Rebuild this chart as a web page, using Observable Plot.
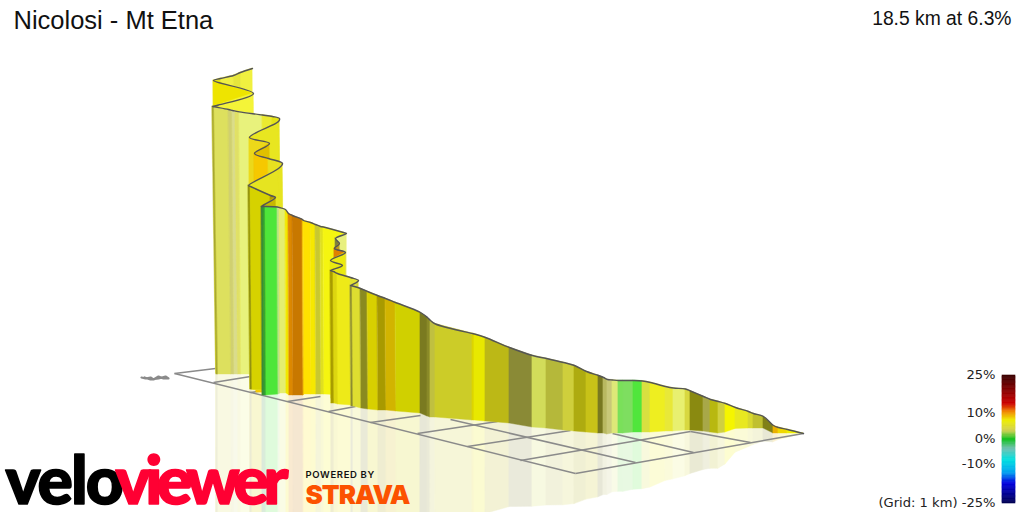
<!DOCTYPE html>
<html>
<head>
<meta charset="utf-8">
<script src="https://cdn.jsdelivr.net/npm/d3@7"></script>
<script src="https://cdn.jsdelivr.net/npm/@observablehq/plot@0.6"></script>
<style>
html,body{margin:0;padding:0;background:#fff;overflow:hidden}
</style>
</head>
<body>
<div id="chart"></div>
<script>
const topX = [252,240,233,220,213,253,218,212,214,228,232,235,239,262,272,279,278,249,269,254,268,282,278,248,250,270,275,
  261,263,265,277,279,285,288,292,302,303,310,315,320,323,343,346,335,339,334,345,330,342,330,333,337,350,358,356,350,352,360,367,377,385,395,420,427,430,435,472,474,485,509,532,546,563,574,586,598,603,607,612,618,623,633,642,650,665,673,685,690,703,710,718,725,735,748,753,763,773,778,787,803];
const topY = [68,72,75,78,80,93,104.5,106,106.4,109,110,110.6,111.4,114.5,116,118,121,137,143,153,158,163,168,185,186,195,197,
  206,206,206,206.5,207,209,213,215,219,220,222,224,226,226.5,232,233,238,243,248,252,260,265,270,271,273,277,280,282,285,285.5,288,291,295,298,302,312,317,320,323.5,333,333.5,337,347,355,358,362,365,371,375,377,379,379.5,380,380,380,380.5,382,386,387.5,388.5,390.5,396,399,401,403,407,411,413,416,425,427,429,433];
const baseX = [254,242,235,222,216,254,220,216,218,231,234,238,241,264,274,281,280,250,271,256,270,284,280,250,252,272,277,
  262,264,266,278,280,286,289,293,303,304,311,316,321,324,344,346,336,339,335,345,331,342,331,334,338,351,359,354,351,353,361,368,378,386,396,420,427,430,435,472,474,485,509,532,546,563,574,586,598,603,607,612,618,623,633,642,650,665,673,685,690,703,710,718,725,735,748,753,763,773,778,787,803];
const baseY = [372,372,372,373,373,372,373,374,374,374,374,374,374,374,374,374,374,389,392,392,392,392,392,389,389,390,390,
  395,395,395,394,393,393,395,395,395,394,394,394,394,394,395,395,396,396,396,397,398,398,403,403,404,405,405,405,406,406,408,409,410,410,411,413,416,417,417,420,420,421,423,427,428,430,431,432,433,433,434,433,433,433,432,432,432,431,431,430,430,431,432,433,432,428.5,428,428,428,433,433,433,433];
const stripeFill = ["#f0f040","#e6e63c","#f0f044","#e2e210","#eee400","#f4f438","#d8d820","#a8a830","#dde05e","#d0d070","#dadc8c","#e0e066","#e8f27c","#ebea30","#e4e414","#e8e620","#e8e620","#ecd81a","#e0c000","#f6c800","#e8e020","#e6e420","#e6e420","#8f8f10","#d6d200","#b09a00","#c8b800",
  "#3a8a3a","#30a030","#4de63a","#b8e28a","#e4ee70","#f2e800","#dd8800","#c87800","#eeb400","#ffe100","#f6e800","#c8c830","#e0e020","#f5f510","#f4f420","#e8f080","#80803a","#c09a20","#e08000","#ebeb10","#eaea10","#e8e810","#a89c00","#ddd610","#eeea18","#e4e430","#d8d838","#dede40","#8a8a30","#dede30","#8a8a20","#d8d000","#a89a00","#d2b400","#d0d000","#7a7a20","#8a8a28","#c0c040","#cccc28","#dcd400","#e8e800","#bcb816","#8a8a36","#d2dc5a","#b5b83a","#cfcf3c","#aeab10","#c8c218","#787820","#b8b860","#c8c878","#dde878","#7ae05a","#7ede60","#50e63c","#d8e040","#eeee20","#e8e838","#e8f070","#d8d840","#8a8a10","#a8a848","#b8b810","#d0d040","#f5f500","#e8e820","#d8d830","#c0c030","#808018","#eab000","#f0d800","#eeee00","#eeee00"];

const gridX1 = [174,213,250,287,328,370,417,467,520,575,174,450,612,690];
const gridY1 = [373,382,392,401,411,422,433,446,460,473,373,419,433,431];
const gridX2 = [215,250,270,320,355,420,497,570,690,803,575,635,693,750];
const gridY2 = [368,376,389,396,406,415,421,430,431,433,473,462,452,442];

const squiggleX = [141,145,150,153,158,163,168,165,158,150,144];
const squiggleY = [377,378,377,379,376,378,378,376,378,379,377];

const legendGrades = [25,20,14,11,7.5,3.5,0,-3.5,-8,-13,-17,-25];
const legendColors = ["#3a0000","#7c0000","#cc0000","#f08000","#eeee00","#d0d050","#10c020","#70c0b0","#00e0e0","#00a0f0","#0000e0","#000050"];
const legendLabels = ["25%","10%","0%","-10%","(Grid: 1 km) -25%"];
const legendLabelY = [379,417,443,468,507];

const titleText = "Nicolosi - Mt Etna";
const summaryText = "18.5 km at 6.3%";

const quads = [];
for (let i = 0; i < topX.length - 1; i++) {
  for (const j of [i, i + 1]) {
    const drop = baseY[j] - topY[j];
    quads.push({id: i, fill: stripeFill[i], x1: topX[j], y1: topY[j], x2: baseX[j], y2: baseY[j],
      rx: baseX[j], ry1: baseY[j], ry2: baseY[j] + 1.1 * drop,
      pale: d3.interpolateRgb(stripeFill[i], "#fff")(0.82)});
  }
}
const ridge = topX.map((x, i) => ({x, y: topY[i]}));
const grid = gridX1.map((x, i) => ({x1: x, y1: gridY1[i], x2: gridX2[i], y2: gridY2[i]}));
const squiggle = squiggleX.map((x, i) => ({x, y: squiggleY[i]}));
const rampColor = d3.scaleLinear().domain(legendGrades).range(legendColors);
const ramp = d3.range(-25, 25, 0.5).map(g => ({g, c: rampColor(g + 0.25)}));
const legendY = g => 439 - g * 2.56;

const plot = Plot.plot({
  width: 1024, height: 512, margin: 0,
  x: {domain: [0, 1024], range: [0, 1024], axis: null},
  y: {domain: [0, 512], range: [0, 512], axis: null},
  color: {type: "identity"},
  style: {background: "#fff"},
  marks: [
    Plot.area(quads, {x1: "rx", y1: "ry1", x2: "rx", y2: "ry2", z: "id", fill: "pale", stroke: "pale", strokeWidth: 0.5, curve: "linear"}),
    Plot.link(grid, {x1: "x1", y1: "y1", x2: "x2", y2: "y2", stroke: "#8a8a8a", strokeWidth: 1.5}),
    Plot.line(squiggle, {x: "x", y: "y", stroke: "#8a8a8a", strokeWidth: 2.2}),
    Plot.area(quads, {x1: "x1", y1: "y1", x2: "x2", y2: "y2", z: "id", fill: "fill", stroke: "fill", strokeWidth: 0.4, curve: "linear"}),
    Plot.line(ridge, {x: "x", y: "y", stroke: "#555", strokeWidth: 1.4, curve: "catmull-rom"}),
    Plot.rect(ramp, {x1: () => 1002, x2: () => 1015, y1: d => legendY(d.g + 0.5), y2: d => legendY(d.g), fill: "c", stroke: "c", strokeWidth: 0.6}),
    Plot.text(legendLabels, {x: () => 995, y: (d, i) => legendLabelY[i], text: d => d, textAnchor: "end", lineAnchor: "bottom", dy: -1, fontFamily: "DejaVu Sans", fontSize: 13.1, fill: "#222"}),
    Plot.text([titleText], {x: () => 13, y: () => 28, text: d => d, textAnchor: "start", lineAnchor: "bottom", dy: 0, fontFamily: "Liberation Sans", fontSize: 25.5, fill: "#111"}),
    Plot.text([summaryText], {x: () => 1011, y: () => 25, text: d => d, textAnchor: "end", lineAnchor: "bottom", dy: -1, fontFamily: "Liberation Sans", fontSize: 19.3, fill: "#111"}),
    Plot.text(["velo"], {x: () => 5, y: () => 503, text: d => d, textAnchor: "start", lineAnchor: "bottom", fontFamily: "Lato", fontWeight: 900, fontSize: 66, fill: "#000", stroke: "#000", strokeWidth: 1.6}),
    Plot.text(["viewer"], {x: () => 115, y: () => 503, text: d => d, textAnchor: "start", lineAnchor: "bottom", fontFamily: "Lato", fontWeight: 900, fontSize: 66, fill: "#ff0033", stroke: "#ff0033", strokeWidth: 1.6}),
    Plot.text(["POWERED BY"], {x: () => 305, y: () => 478, text: d => d, textAnchor: "start", lineAnchor: "bottom", dy: -1, fontFamily: "Inter", fontWeight: 600, fontSize: 9.5, fill: "#111"}),
    Plot.text(["STRAVA"], {x: () => 305, y: () => 503, text: d => d, textAnchor: "start", lineAnchor: "bottom", fontFamily: "Inter", fontWeight: 900, fontSize: 26, fill: "#fc5200"})
  ]
});
const tracking = {velo: -2, viewer: -5.5, "POWERED BY": 0.65, STRAVA: -1};
d3.select(plot).selectAll("text").each(function () {
  const spacing = tracking[this.textContent];
  if (spacing !== undefined) this.style.letterSpacing = spacing + "px";
});
document.getElementById("chart").appendChild(plot);
</script>
</body>
</html>
